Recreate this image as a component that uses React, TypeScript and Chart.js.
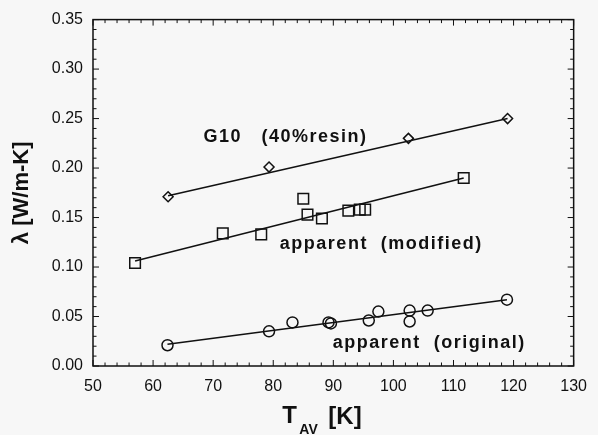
import React, { useEffect, useRef } from "react";
import { Chart, registerables } from "chart.js";

Chart.register(...registerables);

// ---- data ----
const g10T = [62.5, 79.3, 102.5, 119.0];
const g10K = [0.171, 0.201, 0.230, 0.250];
const g10FitT = [62.5, 119.0];
const g10FitK = [0.172, 0.250];

const modT = [57.0, 71.6, 78.0, 85.0, 85.7, 88.1, 92.5, 94.4, 95.3, 111.7];
const modK = [0.104, 0.134, 0.133, 0.169, 0.153, 0.149, 0.157, 0.158, 0.158, 0.190];
const modFitT = [57.0, 111.7];
const modFitK = [0.106, 0.190];

const origT = [62.4, 79.3, 83.2, 89.2, 89.6, 95.9, 97.5, 102.7, 102.7, 105.7, 118.9];
const origK = [0.021, 0.035, 0.044, 0.044, 0.043, 0.046, 0.055, 0.056, 0.045, 0.056, 0.067];
const origFitT = [62.4, 118.9];
const origFitK = [0.022, 0.067];

const noteTexts = ["G10   (40%resin)", "apparent  (modified)", "apparent  (original)"];
const noteT = [68.4, 81.1, 89.9];
const noteK = [0.2316, 0.1233, 0.0229];

const xMin = 50, xMax = 130, xStep = 10;
const yMin = 0, yMax = 0.35, yStep = 0.05;
const yTitle = "λ [W/m-K]";

const BG = "#f7f7f7";
const INK = "#111111";
const FAMILY = "'Liberation Sans', Arial, Helvetica, sans-serif";

const pts = (xs: number[], ys: number[]) => xs.map((x, i) => ({ x, y: ys[i] }));

const framePlugin = {
  id: "frame",
  afterDatasetsDraw(chart: any) {
    const { ctx, chartArea: a, scales } = chart;
    const xs = scales.x, ys = scales.y;
    ctx.save();
    ctx.strokeStyle = INK;
    ctx.lineWidth = 1.5;
    ctx.strokeRect(a.left, a.top, a.right - a.left, a.bottom - a.top);

    const sub = (vals: number[], n: number) => {
      const out: number[] = [];
      for (let i = 0; i < vals.length - 1; i++)
        for (let j = 1; j < n; j++) out.push(vals[i] + ((vals[i + 1] - vals[i]) * j) / n);
      return out;
    };
    const xMaj = xs.ticks.map((t: any) => t.value);
    const yMaj = ys.ticks.map((t: any) => t.value);
    const xMin_ = sub(xMaj, 5);
    const yMin_ = sub(yMaj, 5);
    ctx.lineWidth = 1;
    ctx.beginPath();
    const xt = (v: number, len: number) => {
      const p = xs.getPixelForValue(v);
      ctx.moveTo(p, a.bottom); ctx.lineTo(p, a.bottom - len);
      ctx.moveTo(p, a.top); ctx.lineTo(p, a.top + len);
    };
    const yt = (v: number, len: number) => {
      const p = ys.getPixelForValue(v);
      ctx.moveTo(a.left, p); ctx.lineTo(a.left + len, p);
      ctx.moveTo(a.right, p); ctx.lineTo(a.right - len, p);
    };
    xMaj.forEach((v: number) => xt(v, 6));
    xMin_.forEach((v: number) => xt(v, 3.5));
    yMaj.forEach((v: number) => yt(v, 6));
    yMin_.forEach((v: number) => yt(v, 3.5));
    ctx.stroke();

    // annotations
    ctx.fillStyle = INK;
    ctx.font = `bold 18px ${FAMILY}`;
    try { (ctx as any).letterSpacing = "1.5px"; } catch (e) {}
    ctx.textBaseline = "middle";
    ctx.textAlign = "left";
    noteTexts.forEach((t, i) => {
      ctx.fillText(t, xs.getPixelForValue(noteT[i]), ys.getPixelForValue(noteK[i]));
    });
    try { (ctx as any).letterSpacing = "0px"; } catch (e) {}

    // x axis title: T_AV [K]
    ctx.textBaseline = "alphabetic";
    const cx = (a.left + a.right) / 2;
    ctx.font = `bold 24px ${FAMILY}`;
    ctx.fillText("T", cx - 51, 423);
    ctx.font = `bold 14px ${FAMILY}`;
    ctx.fillText("AV", cx - 34, 434);
    ctx.font = `bold 24px ${FAMILY}`;
    ctx.fillText("[K]", cx - 5, 424);
    ctx.restore();
  },
};

export default function App() {
  const ref = useRef<HTMLCanvasElement | null>(null);
  useEffect(() => {
    if (!ref.current) return;
    Chart.defaults.font.family = FAMILY;
    const marker = (style: string, r: number) => ({
      type: "scatter" as const,
      pointStyle: style,
      pointRadius: r,
      pointBorderWidth: 1.5,
      pointBorderColor: INK,
      pointBackgroundColor: "rgba(0,0,0,0)",
      showLine: false,
      order: 1,
    });
    const fit = {
      type: "line" as const,
      borderColor: INK,
      borderWidth: 1.5,
      pointRadius: 0,
      fill: false,
      tension: 0,
      order: 2,
    };
    const chart = new Chart(ref.current, {
      type: "scatter",
      data: {
        datasets: [
          { ...fit, data: pts(g10FitT, g10FitK) },
          { ...fit, data: pts(modFitT, modFitK) },
          { ...fit, data: pts(origFitT, origFitK) },
          { ...marker("rectRot", 5), data: pts(g10T, g10K) },
          { ...marker("rect", 7.5), data: pts(modT, modK) },
          { ...marker("circle", 5.5), data: pts(origT, origK) },
        ] as any,
      },
      options: {
        animation: false,
        responsive: false,
        layout: { padding: { top: 14, right: 16, left: 0, bottom: 0 } },
        plugins: { legend: { display: false }, tooltip: { enabled: false } },
        scales: {
          x: {
            type: "linear",
            min: xMin,
            max: xMax,
            ticks: {
              stepSize: xStep,
              padding: 11,
              color: INK,
              font: { size: 16, family: FAMILY },
              maxRotation: 0,
              autoSkip: false,
            },
            grid: { display: false, drawTicks: false },
            border: { display: false },
            afterFit: (s: any) => { s.height = 69; },
          },
          y: {
            type: "linear",
            min: yMin,
            max: yMax,
            ticks: {
              stepSize: yStep,
              padding: 10,
              color: INK,
              font: { size: 16, family: FAMILY },
              callback: (v: any) => Number(v).toFixed(2),
            },
            grid: { display: false, drawTicks: false },
            border: { display: false },
            title: {
              display: true,
              text: yTitle,
              color: INK,
              font: { size: 22, weight: "bold", family: FAMILY },
              padding: { top: 9, bottom: 0 },
            },
            afterFit: (s: any) => { s.width = 93; },
          },
        },
      } as any,
      plugins: [framePlugin],
    });
    return () => chart.destroy();
  }, []);
  return (
    <div style={{ position: "absolute", left: 0, top: 0, width: 598, height: 435, background: BG }}>
      <canvas ref={ref} width={598} height={435} />
    </div>
  );
}
